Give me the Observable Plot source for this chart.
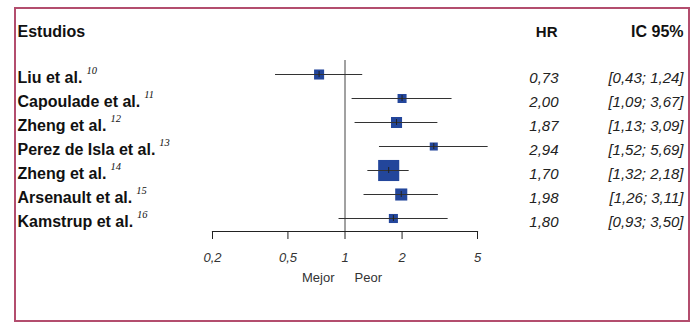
<!DOCTYPE html>
<html><head><meta charset="utf-8">
<script src="https://cdn.jsdelivr.net/npm/d3@7"></script>
<script src="https://cdn.jsdelivr.net/npm/@observablehq/plot@0.6"></script>
<style>
body{margin:0;background:#fff;}
#wrap{position:relative;width:695px;height:324px;overflow:hidden;}
#wrap svg{position:absolute;left:0;top:0;}
#box{position:absolute;left:14px;top:7px;width:672px;height:311px;border:2px solid #b34d6e;pointer-events:none;}
</style></head><body><div id="wrap"><div id="box"></div></div>
<script>
const studies = ["Liu et al.","Capoulade et al.","Zheng et al.","Perez de Isla et al.","Zheng et al.","Arsenault et al.","Kamstrup et al."];
const refs = ["10","11","12","13","14","15","16"];
const hr = [0.73,2.00,1.87,2.94,1.70,1.98,1.80];
const lo = [0.43,1.09,1.13,1.52,1.32,1.26,0.93];
const hi = [1.24,3.67,3.09,5.69,2.18,3.11,3.50];
const weight = [9.7,7.8,11.7,6.2,42.7,14.0,7.9];
const xTicks = [0.2,0.5,1,2,5];
const colHeaders = ["Estudios","HR","IC 95%"];
const sideLabels = ["Mejor","Peor"];

const fmt = v => v.toFixed(2).replace(".", ",");
const rows = studies.map((s,i)=>({id:i, study:s, ref:refs[i], hr:hr[i], lo:lo[i], hi:hi[i], w:weight[i]}));

const W = 695, H = 324, mL = 212, mR = 218, mT = 60, mB = 93;
const leftX = 17, hrRight = 558, icRight = 683;

const plot = Plot.plot({
  width: W, height: H,
  marginLeft: mL, marginRight: mR, marginTop: mT, marginBottom: mB,
  style: {fontFamily: "'Liberation Sans', Arial, sans-serif", background: "transparent"},
  x: {type: "log", domain: [0.2, 5]},
  y: {type: "point", domain: rows.map(d=>d.id), range: [73, 219], padding: 0, axis: null},
  r: {type: "sqrt", domain: [0, d3.max(weight)], range: [0, 11.9]},
  marks: [
    Plot.ruleX([1], {stroke: "#444", strokeWidth: 1}),
    Plot.frame({anchor: "bottom", stroke: "#222", strokeWidth: 1.2}),
    Plot.axisX({ticks: xTicks, tickFormat: v => String(v).replace(".", ","), tickSize: 8, tickPadding: 13,
      fontSize: 13, fontStyle: "italic", fill: "#333", stroke: "#222", label: null}),
    Plot.dot(rows, {x: "hr", y: "id", r: "w", symbol: "square", fill: "#23469b", stroke: null}),
    Plot.ruleY(rows, {x1: "lo", x2: "hi", y: "id", stroke: "#333", strokeWidth: 1.2}),
    Plot.ruleX(rows, {x: "hr", y1: "id", y2: "id", insetTop: -3, insetBottom: -3, stroke: "#222", strokeWidth: 1}),
    Plot.text(rows, {y: "id", text: "study", frameAnchor: "left", dx: leftX - mL, dy: 3.6, textAnchor: "start",
      fontWeight: "bold", fontSize: 16, fill: "#111"}),
    Plot.text(rows, {y: "id", text: d => fmt(d.hr), frameAnchor: "right", dx: hrRight - (W - mR), dy: 3.6,
      textAnchor: "end", fontStyle: "italic", fontSize: 15, fill: "#222"}),
    Plot.text(rows, {y: "id", text: d => `[${fmt(d.lo)}; ${fmt(d.hi)}]`, frameAnchor: "right", dx: icRight - (W - mR), dy: 3.6,
      textAnchor: "end", fontStyle: "italic", fontSize: 15, fill: "#222"}),
    Plot.text([colHeaders[0]], {text: d => d, frameAnchor: "top-left", dx: leftX - mL, dy: 25 - mT + 0.6,
      textAnchor: "start", fontWeight: "bold", fontSize: 16, fill: "#111"}),
    Plot.text([colHeaders[1]], {text: d => d, frameAnchor: "top-right", dx: 557 - (W - mR), dy: 25 - mT + 0.6,
      textAnchor: "end", fontWeight: "bold", fontSize: 15, fill: "#111"}),
    Plot.text([colHeaders[2]], {text: d => d, frameAnchor: "top-right", dx: icRight - (W - mR), dy: 25 - mT + 0.6,
      textAnchor: "end", fontWeight: "bold", fontSize: 16, fill: "#111"}),
    Plot.text([sideLabels[0]], {x: [1], text: d => d, frameAnchor: "bottom", dy: 50, dx: -10.5,
      textAnchor: "end", fontSize: 13, fill: "#333"}),
    Plot.text([sideLabels[1]], {x: [1], text: d => d, frameAnchor: "bottom", dy: 50, dx: 9.5,
      textAnchor: "start", fontSize: 13, fill: "#333"})
  ]
});

document.getElementById("wrap").insertBefore(plot, document.getElementById("box"));

// add italic superscript reference numbers to the study labels
d3.select(plot).selectAll("text").each(function() {
  const el = this;
  const t = el.textContent;
  if (el.parentNode.getAttribute("font-weight") !== "bold") return;
  const siblings = Array.from(el.parentNode.querySelectorAll("text"));
  if (siblings.length !== rows.length) return;
  const i = siblings.indexOf(el);
  if (t !== rows[i].study) return;
  d3.select(el).append("tspan")
    .attr("dx", 4).attr("dy", -9)
    .attr("font-family", "'Liberation Serif', 'Times New Roman', serif")
    .attr("font-style", "italic").attr("font-weight", "normal").attr("font-size", 10.5)
    .text(rows[i].ref);
});
</script>
</body></html>
